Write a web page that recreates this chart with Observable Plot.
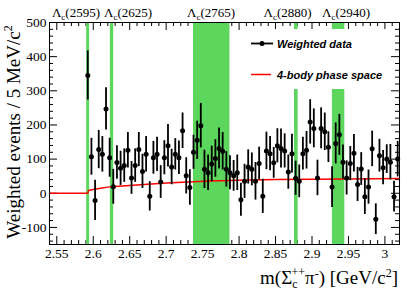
<!DOCTYPE html>
<html><head><meta charset="utf-8">
<script src="https://cdn.jsdelivr.net/npm/d3@7"></script>
<script src="https://cdn.jsdelivr.net/npm/@observablehq/plot@0.6"></script>
<style>html,body{margin:0;padding:0;background:#fff}svg{display:block}</style>
</head><body><div id="chart"></div>
<script>
// ---- data ----
const firstBinCenter = 2.5925;   // GeV/c^2
const binWidth = 0.005;          // 5 MeV/c^2
const weightedCounts = [345,107,-21,128,114,247,104,19,90,73,
  81,126,45,81,128,64,114,-9,104,114,
  33,104,139,77,114,104,183,51,17,120,
  155,198,70,60,86,102,131,123,70,60,
  51,60,-19,35,77,70,35,87,-9,124,
  116,89,139,131,124,62,116,44,35,116,
  126,209,190,45,190,180,135,18,146,171,
  91,45,87,117,26,71,-10,18,130,-76,
  110,75,100,91,-10,100];
const countErrors = [72,54,59,56,52,62,57,51,49,50,
  49,52,48,49,50,50,52,43,48,50,
  48,50,62,52,46,49,52,53,52,50,
  56,65,56,52,52,55,60,55,52,50,
  45,52,48,50,50,48,55,48,50,55,
  50,45,50,57,50,50,57,50,48,48,
  55,65,57,52,60,55,45,60,60,60,
  50,50,50,55,50,48,52,50,52,45,
  48,50,42,52,45,52];
const phaseMass = [2.54,2.5925,2.5935,2.60,2.61,2.62,2.63,2.65,2.68,2.70,2.73,2.76,2.80,2.85,2.90,2.95,3.02];
const phaseValue = [0,0,8,11,15,18,20,23,27,30,33,36,38,40,41,42,43];
const resonanceNames = ["2595","2625","2765","2880","2940"];
const bandLow  = [2.591,2.6235,2.7375,2.876,2.928];
const bandHigh = [2.595,2.628,2.7875,2.881,2.945];
const resLabelMass = [2.577,2.6484,2.7622,2.8672,2.9474];
const xTicks = [2.55,2.6,2.65,2.7,2.75,2.8,2.85,2.9,2.95,3.0];
const xTickLabels = ["2.55","2.6","2.65","2.7","2.75","2.8","2.85","2.9","2.95","3"];
const yTicks = [-100,0,100,200,300,400,500];
const yTickLabels = ["-100","0","100","200","300","400","500"];
const legendLabels = ["Weighted data","4-body phase space"];

// ---- build tables ----
const points = weightedCounts.map((v,i)=>({m: firstBinCenter + i*binWidth, v, e: countErrors[i]}));
const phase = phaseMass.map((m,i)=>({m, v: phaseValue[i]}));
const bands = bandLow.map((lo,i)=>({lo, hi: bandHigh[i], name: resonanceNames[i]}));
const xMinor = d3.range(2.54, 3.0201, 0.01).map(d=>+d.toFixed(3)).filter(d=>!xTicks.some(t=>Math.abs(t-d)<1e-6));
const yMinor = d3.range(-140, 501, 20).filter(d=>d%100!==0);

const W=407, H=292, mL=49, mR=8, mT=22, mB=48;
const fw = W-mL-mR, fh = H-mT-mB;
const serif = "'Liberation Serif','Times New Roman',serif";
const green = "#5cd65c";

const chart = Plot.plot({
  width: W, height: H, marginLeft: mL, marginRight: mR, marginTop: mT, marginBottom: mB,
  x: {domain: [2.54, 3.02], label: null},
  y: {domain: [-150, 500], label: null},
  style: {fontFamily: serif, fontSize: "13.5px", color: "black", background: "white"},
  marks: [
    Plot.tickX(xTicks, {x: d=>d, insetTop: fh-8, stroke: "black"}),
    Plot.tickX(xTicks, {x: d=>d, insetBottom: fh-8, stroke: "black"}),
    Plot.tickX(xMinor, {x: d=>d, insetTop: fh-4, stroke: "black"}),
    Plot.tickX(xMinor, {x: d=>d, insetBottom: fh-4, stroke: "black"}),
    Plot.tickY(yTicks, {y: d=>d, insetRight: fw-8, stroke: "black"}),
    Plot.tickY(yTicks, {y: d=>d, insetLeft: fw-8, stroke: "black"}),
    Plot.tickY(yMinor, {y: d=>d, insetRight: fw-4, stroke: "black"}),
    Plot.tickY(yMinor, {y: d=>d, insetLeft: fw-4, stroke: "black"}),
    Plot.rect(bands, {x1: "lo", x2: "hi", fill: green}),
    Plot.line(phase, {x: "m", y: "v", stroke: "red", strokeWidth: 1.5}),
    Plot.ruleX(points, {x: "m", y1: d=>d.v-d.e, y2: d=>d.v+d.e, stroke: "black", strokeWidth: 1.8}),
    Plot.dot(points, {x: "m", y: "v", r: 2.5, fill: "black"}),
    Plot.axisX(xTicks, {anchor: "bottom", tickSize: 0, tickPadding: 4, tickFormat: (d,i)=>xTickLabels[i], fontSize: 13.5}),
    Plot.axisY(yTicks, {anchor: "left", tickSize: 0, tickPadding: 3, tickFormat: (d,i)=>yTickLabels[i], fontSize: 13.5}),
    Plot.frame({stroke: "black"})
  ]
});
document.getElementById("chart").appendChild(chart);

const svg = d3.select(chart);
const xs = chart.scale("x");

// white legend background, drawn over the bands but under the data
const lineG = chart.querySelector("g[aria-label='line']");
const box = document.createElementNS("http://www.w3.org/2000/svg", "rect");
box.setAttribute("x", 240); box.setAttribute("y", 29);
box.setAttribute("width", 150); box.setAttribute("height", 60);
box.setAttribute("fill", "white");
if (lineG) chart.insertBefore(box, lineG); else chart.appendChild(box);

const leg = svg.append("g").attr("font-family", "'Liberation Sans',Arial,sans-serif")
  .attr("font-weight", "bold").attr("font-style", "italic").attr("font-size", "11px")
  .attr("text-anchor", "start");
leg.append("line").attr("x1", 251).attr("x2", 273).attr("y1", 43.5).attr("y2", 43.5).attr("stroke", "black").attr("stroke-width", 1.8);
leg.append("circle").attr("cx", 262).attr("cy", 43.5).attr("r", 2.5).attr("fill", "black");
leg.append("text").attr("x", 277).attr("y", 47.5).text(legendLabels[0]);
leg.append("line").attr("x1", 251).attr("x2", 271).attr("y1", 74.5).attr("y2", 74.5).attr("stroke", "red").attr("stroke-width", 1.5);
leg.append("text").attr("x", 277).attr("y", 78.5).text(legendLabels[1]);

const resG = svg.append("g").attr("font-family", serif).attr("font-size", "13px").attr("text-anchor", "middle");
resonanceNames.forEach((n,i)=>{
  const t = resG.append("text").attr("x", xs.apply(resLabelMass[i])).attr("y", 17);
  t.append("tspan").text("Λ");
  t.append("tspan").attr("font-size", "9px").attr("dy", 3).text("c");
  t.append("tspan").attr("dy", -3).text("(" + n + ")");
});

const xt = svg.append("text").attr("font-family", serif).attr("font-size", "19px")
  .attr("text-anchor", "end").attr("x", 398).attr("y", 284);
xt.append("tspan").text("m(Σ");
xt.append("tspan").attr("font-size", "12px").attr("dy", 4).text("c");
xt.append("tspan").attr("font-size", "12px").attr("dx", -6).attr("dy", -12).text("++");
xt.append("tspan").attr("dy", 8).text("π");
xt.append("tspan").attr("font-size", "12px").attr("dy", -6).text("-");
xt.append("tspan").attr("dy", 6).text(") [GeV/c");
xt.append("tspan").attr("font-size", "12px").attr("dy", -7).text("2");
xt.append("tspan").attr("dy", 7).text("]");

const yt = svg.append("text").attr("font-family", serif).attr("font-size", "19px")
  .attr("text-anchor", "middle").attr("transform", "translate(19.5,132) rotate(-90)");
yt.append("tspan").text("Weighted events / 5 MeV/c");
yt.append("tspan").attr("font-size", "12px").attr("dy", -8).text("2");
</script>
</body></html>
